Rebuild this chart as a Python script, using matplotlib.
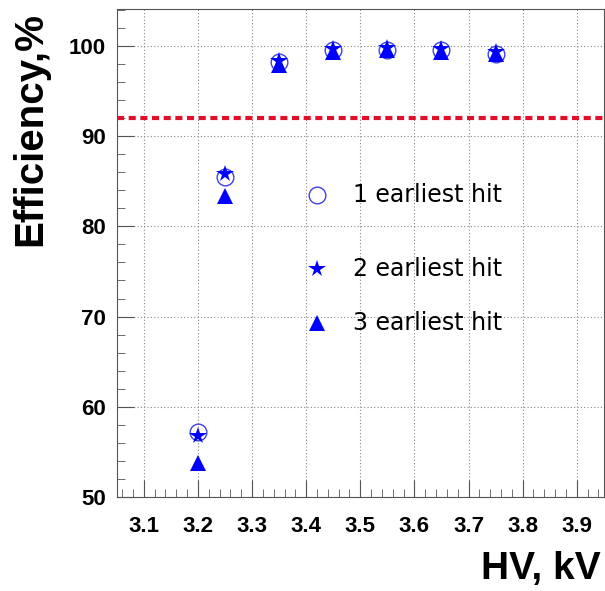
import matplotlib
matplotlib.use("Agg")
import matplotlib.pyplot as plt
from matplotlib.ticker import MultipleLocator
from matplotlib.lines import Line2D

#data
hv = [3.2, 3.25, 3.35, 3.45, 3.55, 3.65, 3.75]
eff_hit1 = [57.2, 85.5, 98.2, 99.5, 99.5, 99.5, 99.1]
eff_hit2 = [56.8, 85.8, 98.3, 99.6, 99.8, 99.6, 99.3]
eff_hit3 = [53.8, 83.4, 97.9, 99.3, 99.5, 99.3, 99.1]
threshold = 92.0
labels = ["1 earliest hit", "2 earliest hit", "3 earliest hit"]

blue = "#0000ff"
plt.rcParams["font.family"] = ["Liberation Sans", "DejaVu Sans"]

fig = plt.figure(figsize=(6.05, 5.91), dpi=100)
ax = fig.add_axes([0.193, 0.159, 0.805, 0.826])

ax.plot(hv, eff_hit1, "o", ms=12, mfc="none", mec="#4040e0", mew=1.0, zorder=3)
ax.plot(hv, eff_hit2, "*", ms=13, color=blue, mew=0, zorder=4)
ax.plot(hv, eff_hit3, "^", ms=11, color=blue, mew=0, zorder=3)

ax.axhline(threshold, color="#e0102a", lw=3, ls=(0, (1.7, 1.1)), zorder=2)

ax.set_xlim(3.05, 3.95)
ax.set_ylim(50, 104.1)
ax.xaxis.set_major_locator(MultipleLocator(0.1))
ax.xaxis.set_minor_locator(MultipleLocator(0.02))
ax.yaxis.set_major_locator(MultipleLocator(10))
ax.yaxis.set_minor_locator(MultipleLocator(2))
ax.tick_params(which="both", direction="in", top=False, right=False, color="#555555")
ax.tick_params(which="major", length=12, width=0.8, labelsize=16)
ax.tick_params(axis="x", which="major", pad=14)
ax.tick_params(axis="y", which="major", pad=8)
ax.tick_params(which="minor", length=6, width=0.6)
for lab in ax.get_xticklabels() + ax.get_yticklabels():
    lab.set_fontweight("bold")
ax.grid(True, which="major", ls=(0, (1, 2)), color="#888888", lw=0.8)
for s in ax.spines.values():
    s.set_linewidth(0.8)
    s.set_color("#555555")

#legend as free markers + text
leg_y = [0.619, 0.467, 0.357]
handles = [
    dict(marker="o", ms=12, mfc="none", mec="#4040e0", mew=1.0),
    dict(marker="*", ms=13, color=blue, mew=0),
    dict(marker="^", ms=11, color=blue, mew=0),
]
for y, lab, h in zip(leg_y, labels, handles):
    ax.add_line(Line2D([0.411], [y], transform=ax.transAxes, ls="none", zorder=5, **h))
    ax.text(0.485, y, lab, transform=ax.transAxes, fontsize=17, va="center",
            family=["DejaVu Sans"], zorder=5)

fig.text(0.018, 0.980, "Efficiency,%", rotation=90, ha="left", va="top",
         fontsize=29, fontweight="bold")
fig.text(0.992, 0.006, "HV, kV", ha="right", va="bottom", fontsize=28, fontweight="bold")

fig.savefig("out.png", dpi=100)
